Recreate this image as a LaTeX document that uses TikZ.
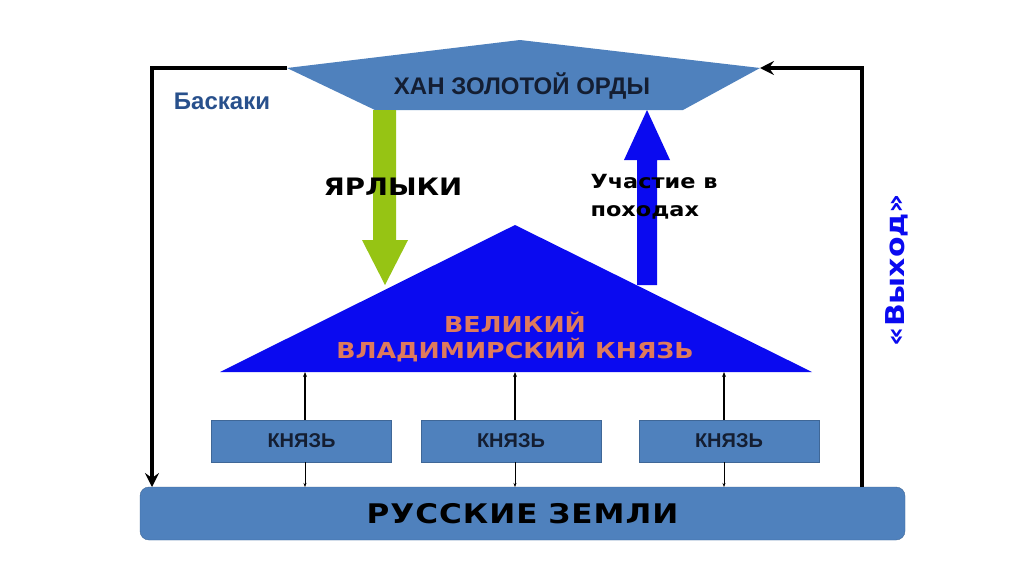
\documentclass[tikz,border=0pt]{standalone}
\usepackage{fontspec}
\setmainfont{Liberation Sans}
\newfontfamily\widesans[FakeStretch=1.15]{DejaVu Sans}
\usetikzlibrary{arrows.meta}
\definecolor{steel}{RGB}{79,129,189}
\definecolor{pureblue}{RGB}{10,10,240}
\definecolor{lime}{RGB}{150,196,20}
\definecolor{salmon}{RGB}{222,122,92}
\definecolor{darktxt}{RGB}{20,30,50}
\definecolor{baskblue}{RGB}{40,80,140}
\tikzset{
  kbox/.style={draw=steel!80!black, line width=0.4pt, fill=steel, minimum width=180pt, minimum height=42pt, inner sep=0pt, font=\bfseries\fontsize{20}{20}\selectfont, text=darktxt},
  frameline/.style={line width=3.5pt, draw=black},
  bigtip/.style={-{Stealth[length=14pt,width=14pt,inset=5pt]}},
  thinlink/.style={line width=1.4pt, draw=black, -{Stealth[length=5pt,width=4pt]}},
  thinlink2/.style={line width=0.5pt, draw=black, -{Stealth[length=4pt,width=3pt]}},
}
\begin{document}
\begin{tikzpicture}[x=1pt,y=-1pt]
\useasboundingbox (0,0) rectangle (1024,574);
\fill[white] (0,0) rectangle (1024,574);

% Khan hexagon
\fill[steel] (287,68) -- (520,40) -- (760,68) -- (683,110) -- (375,110) -- cycle;
\node[font=\bfseries\fontsize{24}{24}\selectfont, text=darktxt] (khan) at (522,86) {ХАН ЗОЛОТОЙ ОРДЫ};
\coordinate (khanL) at (287,68);
\coordinate (khanR) at (760,68);

% Russian lands
\node[draw=steel!80!black, fill=steel, rounded corners=9pt, minimum width=765pt, minimum height=53pt, inner sep=0pt,
      font=\widesans\bfseries\fontsize{27}{27}\selectfont, text=black] (land) at (522.5,513.5) {Р\kern1pt У\kern1pt С\kern1pt С\kern1pt К\kern1pt И\kern1pt Е\ З\kern1pt Е\kern1pt М\kern1pt Л\kern1pt И};

% frame lines
\coordinate (lb) at (152,487);
\coordinate (rb) at (862,487);
\draw[frameline, bigtip] (khanL) -- (152,68) -- (lb);
\draw[frameline, bigtip] (rb) -- (862,68) -- (khanR);

\node[font=\bfseries\fontsize{24}{24}\selectfont, text=baskblue] (bask) at (222,101) {Баскаки};
\node[font=\widesans\bfseries\fontsize{26}{26}\selectfont, text=pureblue, rotate=90] (vyh) at (897,270) {«Выход»};

% triangle
\fill[pureblue] (515,225) -- (812,372) -- (220,372) -- cycle;
\coordinate (triapex) at (515,225);
\node[font=\widesans\bfseries\fontsize{22}{22}\selectfont, text=salmon, align=center] (vel) at (515,337) {ВЕЛИКИЙ\\[4pt]ВЛАДИМИРСКИЙ КНЯЗЬ};

% green arrow (down)
\fill[lime] (373,110) -- (396,110) -- (396,240) -- (408,240) -- (385,285) -- (362,240) -- (373,240) -- cycle;
\node[font=\widesans\bfseries\fontsize{24}{24}\selectfont, text=black] (yar) at (393,187) {ЯРЛЫКИ};

% blue arrow (up)
\fill[pureblue] (637,285) -- (657,285) -- (657,160) -- (670,160) -- (647,110) -- (624,160) -- (637,160) -- cycle;
\node[font=\widesans\bfseries\fontsize{19.5}{28}\selectfont, text=black, align=left, anchor=west] (uch) at (587,197) {Участие в\\походах};

% princes
\node[kbox] (k1) at (301.5,441) {КНЯЗЬ};
\node[kbox] (k2) at (511,441) {КНЯЗЬ};
\node[kbox] (k3) at (729,441) {КНЯЗЬ};

\draw[thinlink] (k1.north -| 305,0) -- (305,372);
\draw[thinlink] (k2.north -| 515,0) -- (515,372);
\draw[thinlink] (k3.north -| 724,0) -- (724,372);
\draw[thinlink2] (k1.south -| 305,0) -- (305,487);
\draw[thinlink2] (k2.south -| 515,0) -- (515,487);
\draw[thinlink2] (k3.south -| 724,0) -- (724,487);
\end{tikzpicture}
\end{document}
